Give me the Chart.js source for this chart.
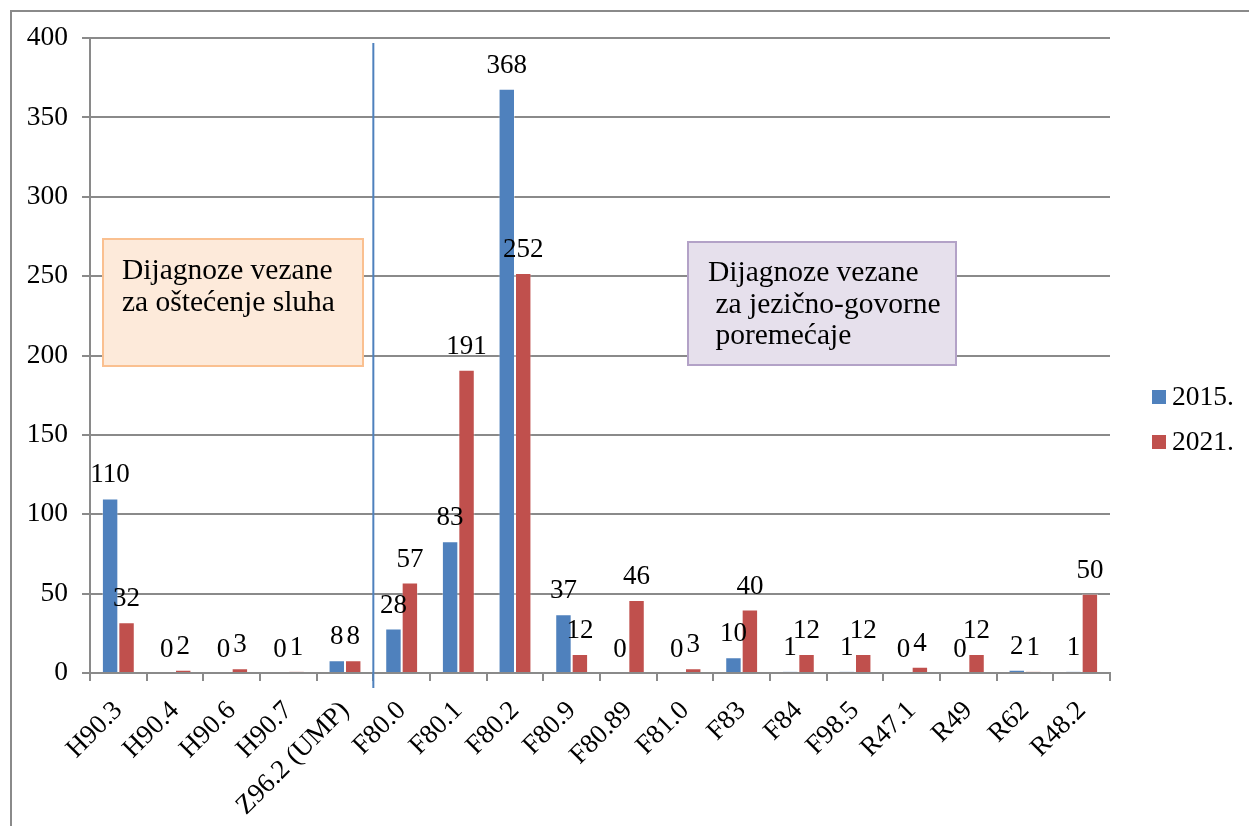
<!DOCTYPE html>
<html>
<head>
<meta charset="utf-8">
<script src="https://cdn.jsdelivr.net/npm/chart.js@4/dist/chart.umd.min.js"></script>
<style>
  html, body { margin: 0; padding: 0; background: #fff; overflow: hidden; }
  canvas { display: block; }
</style>
</head>
<body>
<canvas id="chart" width="1249" height="826"></canvas>
<script>
const categories = ['H90.3', 'H90.4', 'H90.6', 'H90.7', 'Z96.2 (UMP)', 'F80.0', 'F80.1', 'F80.2', 'F80.9',
    'F80.89', 'F81.0', 'F83', 'F84', 'F98.5', 'R47.1', 'R49', 'R62', 'R48.2'];
const values2015 = [110, 0, 0, 0, 8, 28, 83, 368, 37, 0, 0, 10, 1, 1, 0, 0, 2, 1];
const values2021 = [32, 2, 3, 1, 8, 57, 191, 252, 12, 46, 3, 40, 12, 12, 4, 12, 1, 50];
const seriesNames = ['2015.', '2021.'];
const yTicks = [0, 50, 100, 150, 200, 250, 300, 350, 400];

const hearingNote = ['Dijagnoze vezane', 'za oštećenje sluha'];
const speechNote = ['Dijagnoze vezane', ' za jezično-govorne', ' poremećaje'];

const FONT = '"Liberation Serif", "Times New Roman", serif';
const GRID = '#8a8a8a';

// frame, notes, divider line, value labels and legend
const extras = {
    id: 'extras',
    beforeDraw(chart) {
        const c = chart.ctx;
        c.save();
        c.strokeStyle = GRID;
        c.lineWidth = 2;
        c.strokeRect(11, 11, 1300, 900);
        c.restore();
    },
    afterDatasetsDraw(chart) {
        const c = chart.ctx;
        const x = chart.scales.x;
        c.save();

        // divider between hearing and speech diagnoses
        const divX = (x.getPixelForValue(4) + x.getPixelForValue(5)) / 2;
        c.strokeStyle = '#4F81BD';
        c.lineWidth = 2;
        c.beginPath();
        c.moveTo(divX, 43);
        c.lineTo(divX, 688);
        c.stroke();

        // value labels
        c.font = '27px ' + FONT;
        c.fillStyle = '#000';
        c.textAlign = 'center';
        c.textBaseline = 'alphabetic';
        chart.data.datasets.forEach((ds, i) => {
            chart.getDatasetMeta(i).data.forEach((bar, j) => {
                c.fillText(String(ds.data[j]), bar.x, bar.y - 16);
            });
        });

        // note boxes
        const box = (x0, y0, w, h, fill, stroke, lines, tx, ty, lh) => {
            c.fillStyle = fill;
            c.fillRect(x0, y0, w, h);
            c.strokeStyle = stroke;
            c.lineWidth = 2;
            c.strokeRect(x0, y0, w, h);
            c.fillStyle = '#000';
            c.textAlign = 'left';
            c.font = '29.5px ' + FONT;
            lines.forEach((t, k) => c.fillText(t, tx, ty + k * lh));
        };
        box(103, 239, 260, 127, '#FDEADA', '#FAC090', hearingNote, 122, 279, 32);
        box(688, 242, 268, 123, '#E6E0EC', '#B3A2C7', speechNote, 708, 281, 31.5);

        // legend
        c.font = '27.5px ' + FONT;
        const legendY = [397, 442];
        chart.data.datasets.forEach((ds, i) => {
            c.fillStyle = ds.backgroundColor;
            c.fillRect(1152, legendY[i] - 7, 14, 14);
            c.fillStyle = '#000';
            c.textAlign = 'left';
            c.textBaseline = 'middle';
            c.fillText(ds.label, 1172, legendY[i] + 1);
        });
        c.restore();
    }
};

new Chart(document.getElementById('chart'), {
    type: 'bar',
    data: {
        labels: categories,
        datasets: [{
            label: seriesNames[0],
            data: values2015,
            backgroundColor: '#4F81BD',
            borderColor: 'rgba(255,255,255,0.35)',
            borderWidth: 1,
            categoryPercentage: 0.58,
            barPercentage: 1
        }, {
            label: seriesNames[1],
            data: values2021,
            backgroundColor: '#C0504D',
            borderColor: 'rgba(255,255,255,0.35)',
            borderWidth: 1,
            categoryPercentage: 0.58,
            barPercentage: 1
        }]
    },
    options: {
        responsive: false,
        animation: false,
        devicePixelRatio: 1,
        layout: { padding: { top: 38, right: 139, left: 0, bottom: 0 } },
        plugins: {
            legend: { display: false },
            tooltip: { enabled: false }
        },
        scales: {
            x: {
                grid: { drawOnChartArea: false, drawTicks: true, tickLength: 8, color: GRID, lineWidth: 2, offset: true },
                border: { color: GRID, width: 2 },
                ticks: {
                    font: { family: FONT, size: 27 },
                    color: '#000',
                    minRotation: 45,
                    maxRotation: 45,
                    autoSkip: false,
                    padding: 14
                },
                afterFit(s) { s.height = 826 - 673; }
            },
            y: {
                min: 0,
                max: 400,
                afterBuildTicks(s) { s.ticks = yTicks.map(v => ({ value: v })); },
                grid: { color: GRID, lineWidth: 2, tickLength: 8 },
                border: { color: GRID, width: 2 },
                ticks: {
                    font: { family: FONT, size: 27.5 },
                    color: '#000',
                    padding: 14
                },
                afterFit(s) { s.width = 90; }
            }
        }
    },
    plugins: [extras]
});
</script>
</body>
</html>
